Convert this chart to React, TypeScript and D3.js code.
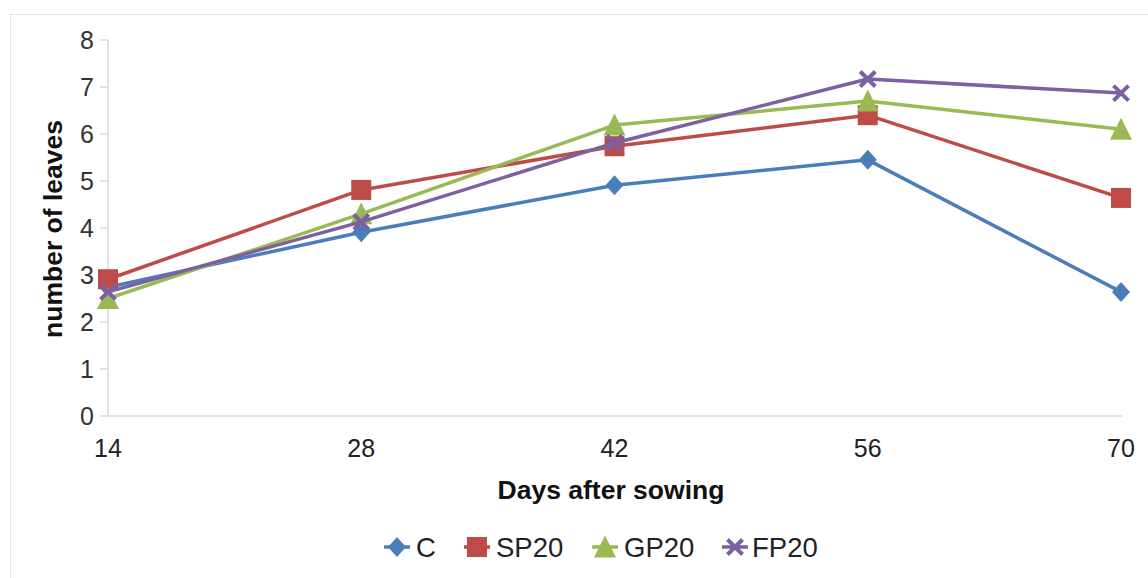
import React from "react";
import * as d3 from "d3";

const days = [14, 28, 42, 56, 70];
const seriesNames = ["C", "SP20", "GP20", "FP20"];
const cValues = [2.74, 3.91, 4.91, 5.45, 2.64];
const sp20Values = [2.91, 4.81, 5.74, 6.4, 4.64];
const gp20Values = [2.5, 4.3, 6.19, 6.7, 6.1];
const fp20Values = [2.64, 4.13, 5.81, 7.17, 6.87];
const yTicks = [0, 1, 2, 3, 4, 5, 6, 7, 8];
const colors = ["#4a7ebb", "#be4b48", "#98b954", "#7d60a0"];
const shapes = ["diamond", "square", "triangle", "cross"];

const W = 1148;
const H = 578;
const font = "Liberation Sans, Arial, sans-serif";

function Marker({ shape, x, y, color }: { shape: string; x: number; y: number; color: string }) {
  if (shape === "diamond") {
    const s = 10;
    return <path d={`M${x},${y - s}L${x + s * 0.9},${y}L${x},${y + s}L${x - s * 0.9},${y}Z`} fill={color} />;
  }
  if (shape === "square") {
    const s = 10;
    return <rect x={x - s} y={y - s} width={2 * s} height={2 * s} fill={color} />;
  }
  if (shape === "triangle") {
    const s = 11;
    return <path d={`M${x},${y - s * 1.05}L${x + s},${y + s * 0.95}L${x - s},${y + s * 0.95}Z`} fill={color} />;
  }
  const s = 7.5;
  return (
    <g stroke={color} strokeWidth={4}>
      <line x1={x - s} y1={y - s} x2={x + s} y2={y + s} />
      <line x1={x - s} y1={y + s} x2={x + s} y2={y - s} />
    </g>
  );
}

export default function App() {
  const x = d3.scaleLinear().domain([14, 70]).range([108, 1121]);
  const y = d3.scaleLinear().domain([0, 8]).range([416, 40]);
  const allValues = [cValues, sp20Values, gp20Values, fp20Values];
  const line = d3
    .line<number>()
    .x((_, i) => x(days[i]))
    .y((d) => y(d));

  const legendItems = [
    { mx: 397, tx: 416 },
    { mx: 477, tx: 496 },
    { mx: 605, tx: 624 },
    { mx: 735, tx: 752 },
  ];

  return (
    <svg
      width={W}
      height={H}
      style={{ position: "absolute", left: 0, top: 0, background: "#fff" }}
      fontFamily={font}
    >
      <line x1={9.5} y1={14.5} x2={W} y2={14.5} stroke="#e3e3e3" strokeWidth={1} />
      <line x1={10.5} y1={14.5} x2={10.5} y2={H} stroke="#e3e3e3" strokeWidth={1} />

      {/* y axis */}
      <line x1={x(14)} y1={y(8)} x2={x(14)} y2={y(0)} stroke="#d9d9d9" strokeWidth={1.5} />
      {yTicks.map((t) => (
        <g key={t}>
          <line x1={x(14) - 8} x2={x(14)} y1={y(t)} y2={y(t)} stroke="#d9d9d9" strokeWidth={1.5} />
          <text x={94} y={y(t)} dy="0.36em" textAnchor="end" fontSize={25} fill="#333">
            {t}
          </text>
        </g>
      ))}
      {/* x axis */}
      <line x1={x(14)} y1={y(0)} x2={x(70) + 1} y2={y(0)} stroke="#d9d9d9" strokeWidth={1.5} />
      {days.map((d) => (
        <text key={d} x={x(d)} y={457} textAnchor="middle" fontSize={25} fill="#222">
          {d}
        </text>
      ))}
      <text x={611} y={499} textAnchor="middle" fontSize={26.5} fontWeight="bold" fill="#111">
        Days after sowing
      </text>
      <text
        transform={`translate(62,229) rotate(-90)`}
        textAnchor="middle"
        fontSize={26.5}
        fontWeight="bold"
        fill="#111"
      >
        number of leaves
      </text>

      {allValues.map((vals, si) => (
        <g key={seriesNames[si]}>
          <path d={line(vals) || ""} fill="none" stroke={colors[si]} strokeWidth={3.5} strokeLinejoin="round" />
          {vals.map((v, i) => (
            <Marker key={i} shape={shapes[si]} x={x(days[i])} y={y(v)} color={colors[si]} />
          ))}
        </g>
      ))}

      {seriesNames.map((n, i) => (
        <g key={n}>
          <line
            x1={legendItems[i].mx - 13}
            x2={legendItems[i].mx + 13}
            y1={547}
            y2={547}
            stroke={colors[i]}
            strokeWidth={3.5}
          />
          <Marker shape={shapes[i]} x={legendItems[i].mx} y={547} color={colors[i]} />
          <text x={legendItems[i].tx} y={547} dy="0.36em" fontSize={27.5} fill="#222">
            {n}
          </text>
        </g>
      ))}
    </svg>
  );
}
